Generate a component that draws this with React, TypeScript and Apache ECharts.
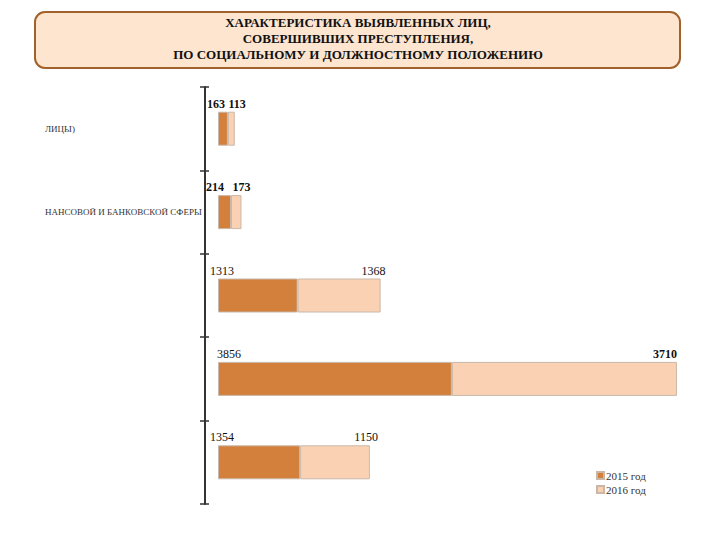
import React, { useEffect, useRef } from "react";
import * as echarts from "echarts";

const categories = ["ЛИЦЫ)", "НАНСОВОЙ И БАНКОВСКОЙ СФЕРЫ", " ", "  ", "   "];
const values2015 = [163, 214, 1313, 3856, 1354];
const values2016 = [113, 173, 1368, 3710, 1150];
const seriesNames = ["2015 год", "2016 год"];
const titleLines = [
  "ХАРАКТЕРИСТИКА ВЫЯВЛЕННЫХ ЛИЦ,",
  "СОВЕРШИВШИХ ПРЕСТУПЛЕНИЯ,",
  "ПО СОЦИАЛЬНОМУ И ДОЛЖНОСТНОМУ ПОЛОЖЕНИЮ",
];
// label styling (not data)
const bold2015 = [true, true, false, false, false];
const bold2016 = [true, true, false, true, false];
const labelDx2015 = [-11, -12, -8, -1, -8];
const labelDx2016 = [11, 9, 5, 0, 8];

const SERIF = "'Liberation Serif', 'DejaVu Serif', serif";

export default function App() {
  const ref = useRef<HTMLDivElement>(null);
  useEffect(() => {
    if (!ref.current) return;
    const chart = echarts.init(ref.current, undefined, { renderer: "svg" });
    const mkData = (vals: number[], bold: boolean[], dx: number[]) =>
      vals.map((v, i) => ({
        value: v,
        label: { fontWeight: bold[i] ? "bold" : "normal", offset: [dx[i], -14] },
      }));
    const labelBase = {
      show: true,
      color: "#111",
      fontFamily: SERIF,
      fontSize: 12,
      distance: 0,
    };
    chart.setOption({
      animation: false,
      backgroundColor: "#ffffff",
      graphic: [
        {
          type: "rect",
          z: -1,
          shape: { x: 35, y: 12, width: 645, height: 56, r: 10 },
          style: { fill: "#FDE5D0", stroke: "#A0622A", lineWidth: 2 },
        },
        {
          type: "text",
          z: 10,
          style: {
            x: 358,
            y: 14,
            text: titleLines.join("\n"),
            textAlign: "center",
            textVerticalAlign: "top",
            font: "bold 13px " + SERIF,
            lineHeight: 16,
            fill: "#111",
          },
        },
      ],
      legend: {
        orient: "vertical",
        left: 591,
        top: 465,
        itemWidth: 7,
        itemHeight: 7,
        itemGap: 3,
        icon: "rect",
        data: seriesNames,
        textStyle: { fontFamily: SERIF, fontSize: 11, color: "#333", padding: [0, 0, 0, -3] },
      },
      grid: { left: 218, right: 41, top: 87, bottom: 36 },
      xAxis: {
        type: "value",
        min: 0,
        max: 7600,
        show: false,
      },
      yAxis: [
        {
          type: "category",
          data: categories,
          inverse: true,
          offset: 13,
          axisLine: { show: true, onZero: false, lineStyle: { color: "#333", width: 2 } },
          axisTick: { show: true, length: 5, lineStyle: { color: "#333", width: 1.5 } },
          axisLabel: {
            margin: 160,
            align: "left",
            fontFamily: SERIF,
            fontSize: 9,
            color: "#333",
          },
        },
        {
          type: "category",
          data: categories,
          inverse: true,
          position: "left",
          offset: 13,
          axisLine: { show: false, onZero: false },
          axisTick: { show: true, inside: true, length: 4, lineStyle: { color: "#333", width: 1.5 } },
          axisLabel: { show: false },
        },
      ],
      series: [
        {
          name: seriesNames[0],
          type: "bar",
          stack: "total",
          barWidth: 34,
          data: mkData(values2015, bold2015, labelDx2015),
          itemStyle: { color: "#D3803D", borderColor: "#C9B8AA", borderWidth: 1 },
          label: { ...labelBase, position: "insideTopLeft" },
        },
        {
          name: seriesNames[1],
          type: "bar",
          stack: "total",
          barWidth: 34,
          data: mkData(values2016, bold2016, labelDx2016),
          itemStyle: { color: "#FAD2B3", borderColor: "#C9B8AA", borderWidth: 1 },
          label: { ...labelBase, position: "insideTopRight" },
        },
      ],
    });
    return () => chart.dispose();
  }, []);
  return (
    <div
      ref={ref}
      style={{ position: "fixed", left: 0, top: 0, width: 720, height: 540 }}
    />
  );
}
